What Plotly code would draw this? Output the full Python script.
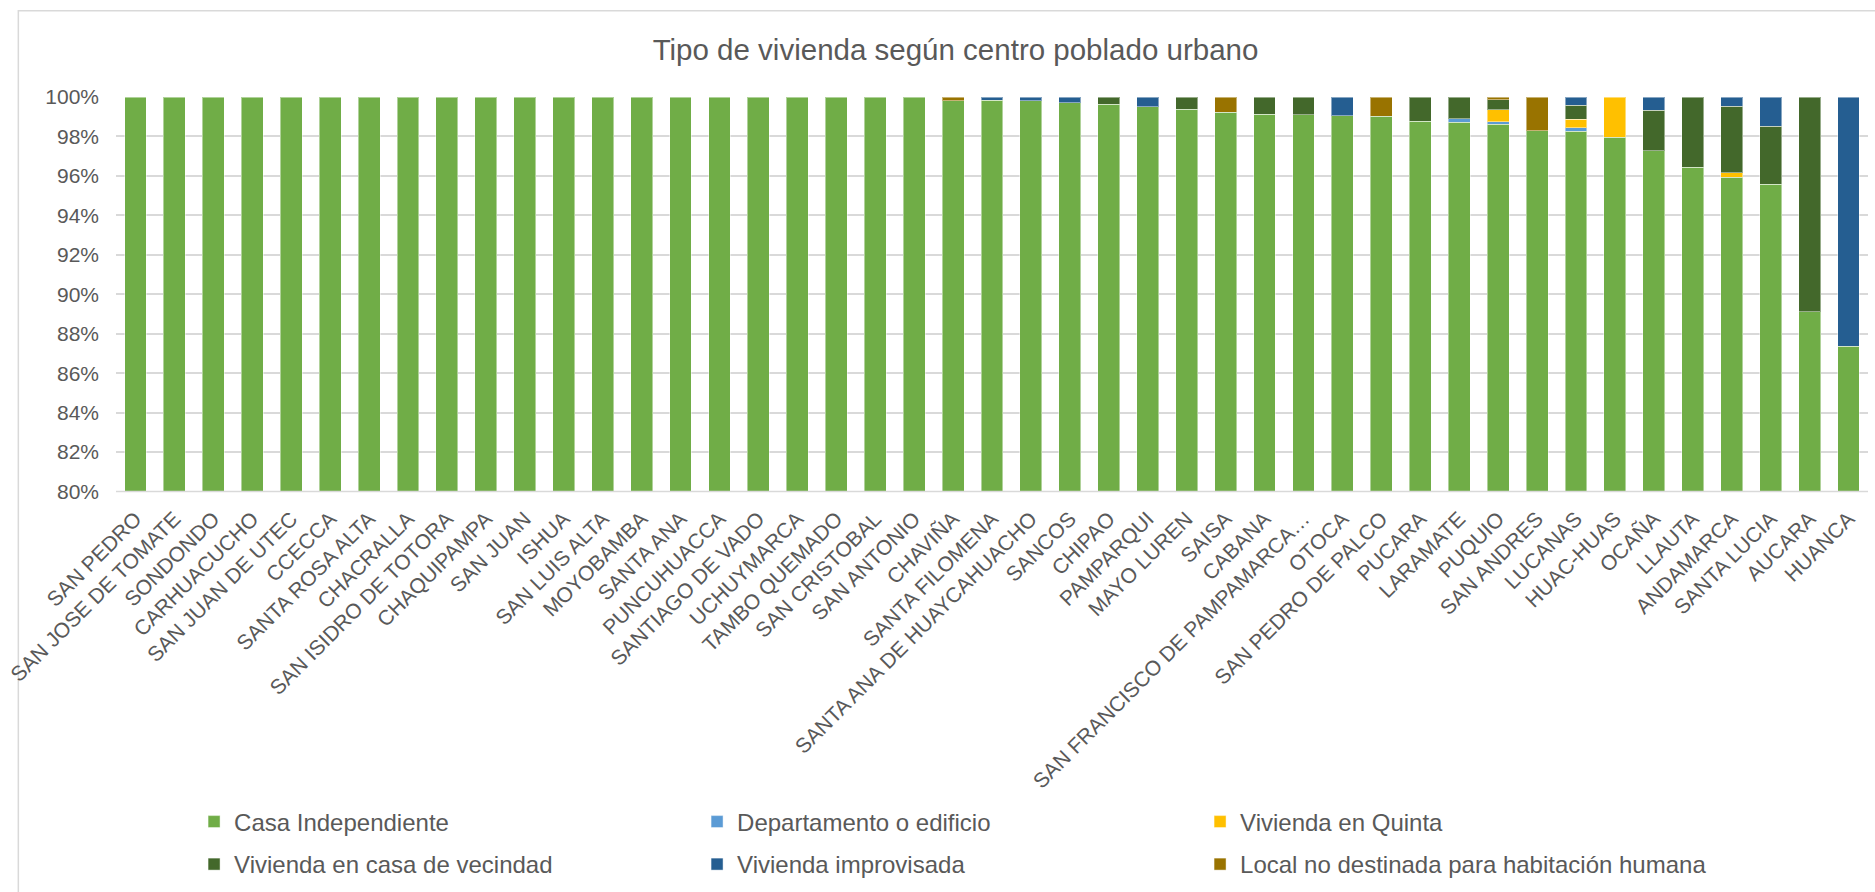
import plotly.graph_objects as go

# Centros poblados urbanos (orden del eje X)
centros = [
    "SAN PEDRO", "SAN JOSE DE TOMATE", "SONDONDO", "CARHUACUCHO", "SAN JUAN DE UTEC",
    "CCECCA", "SANTA ROSA ALTA", "CHACRALLA", "SAN ISIDRO DE TOTORA", "CHAQUIPAMPA",
    "SAN JUAN", "ISHUA", "SAN LUIS ALTA", "MOYOBAMBA", "SANTA ANA",
    "PUNCUHUACCA", "SANTIAGO DE VADO", "UCHUYMARCA", "TAMBO QUEMADO", "SAN CRISTOBAL",
    "SAN ANTONIO", "CHAVIÑA", "SANTA FILOMENA", "SANTA ANA DE HUAYCAHUACHO", "SANCOS",
    "CHIPAO", "PAMPARQUI", "MAYO LUREN", "SAISA", "CABANA",
    "SAN FRANCISCO DE PAMPAMARCA…", "OTOCA", "SAN PEDRO DE PALCO", "PUCARA", "LARAMATE",
    "PUQUIO", "SAN ANDRES", "LUCANAS", "HUAC-HUAS", "OCAÑA",
    "LLAUTA", "ANDAMARCA", "SANTA LUCIA", "AUCARA", "HUANCA",
]

# Porcentaje de viviendas por tipo (%)
casa_independiente = [100] * 21 + [
    99.82, 99.83, 99.80, 99.70, 99.63, 99.50, 99.37, 99.23, 99.13, 99.10,
    99.05, 99.02, 98.78, 98.72, 98.62, 98.30, 98.27, 97.97, 97.28, 96.43,
    95.92, 95.58, 89.12, 87.37,
]
departamento = [0] * 21 + [
    0, 0, 0, 0, 0, 0, 0, 0, 0, 0,
    0, 0, 0, 0.17, 0.13, 0, 0.18, 0, 0, 0,
    0, 0, 0, 0,
]
vivienda_quinta = [0] * 21 + [
    0, 0, 0, 0, 0, 0, 0, 0, 0, 0,
    0, 0, 0, 0, 0.60, 0, 0.42, 2.03, 0, 0,
    0.23, 0, 0, 0,
]
casa_vecindad = [0] * 21 + [
    0, 0, 0, 0, 0.37, 0, 0.63, 0, 0.87, 0.90,
    0, 0, 1.22, 1.11, 0.52, 0, 0.71, 0, 2.04, 3.57,
    3.37, 2.95, 10.88, 0,
]
vivienda_improvisada = [0] * 21 + [
    0, 0.17, 0.20, 0.30, 0, 0.50, 0, 0, 0, 0,
    0.95, 0, 0, 0, 0, 0, 0.42, 0, 0.68, 0,
    0.48, 1.47, 0, 12.63,
]
local_no_destinado = [0] * 21 + [
    0.18, 0, 0, 0, 0, 0, 0, 0.77, 0, 0,
    0, 0.98, 0, 0, 0.13, 1.70, 0, 0, 0, 0,
    0, 0, 0, 0,
]

series = [
    ("Casa Independiente", casa_independiente, "#70AD47", "legend"),
    ("Departamento o edificio", departamento, "#5B9BD5", "legend"),
    ("Vivienda en Quinta", vivienda_quinta, "#FFC000", "legend"),
    ("Vivienda en casa de vecindad", casa_vecindad, "#43682B", "legend2"),
    ("Vivienda improvisada", vivienda_improvisada, "#255E91", "legend2"),
    ("Local no destinada para habitación humana", local_no_destinado, "#997300", "legend2"),
]

FONT = "Liberation Sans, Arial, sans-serif"
GRIS = "#595959"

fig = go.Figure()
for nombre, valores, color, leyenda in series:
    fig.add_trace(go.Bar(
        name=nombre,
        x=centros,
        y=[v if v else None for v in valores],
        marker=dict(color=color, line=dict(color="rgba(255,255,255,0.45)", width=1)),
        legend=leyenda,
        # la última entrada de cada fila puede ocupar más ancho sin mover las demás
        legendwidth=520 if nombre.startswith("Local") else None,
        hovertemplate="%{x}<br>" + nombre + ": %{y:.2f}%<extra></extra>",
    ))

leyenda_base = dict(
    orientation="h",
    traceorder="normal",
    xref="container", yref="container",
    x=0.1035, xanchor="left", yanchor="middle",
    entrywidth=458, entrywidthmode="pixels",
    font=dict(family=FONT, size=24, color=GRIS),
    bgcolor="rgba(0,0,0,0)",
    itemclick=False,
)

fig.update_layout(
    width=1875, height=892,
    margin=dict(l=110.5, r=6.5, t=97.3, b=398.5),
    paper_bgcolor="white", plot_bgcolor="white",
    barmode="stack", bargap=0.437,
    title=dict(
        text="Tipo de vivienda según centro poblado urbano",
        x=955.5 / 1875, xanchor="center", xref="container",
        y=1 - 50 / 892, yanchor="middle", yref="container",
        font=dict(family=FONT, size=29.5, color=GRIS),
    ),
    font=dict(family=FONT, color=GRIS),
    legend=dict(leyenda_base, y=1 - 822 / 892),
    legend2=dict(leyenda_base, y=1 - 864.5 / 892),
    xaxis=dict(
        type="category",
        tickangle=-45,
        tickfont=dict(family=FONT, size=21, color=GRIS),
        showgrid=False,
        showline=False,
        ticks="",
        ticklabelstandoff=10,
    ),
    yaxis=dict(
        range=[80, 100],
        dtick=2,
        ticksuffix="%",
        tickfont=dict(family=FONT, size=21, color=GRIS),
        showgrid=True, gridcolor="#D9D9D9", gridwidth=1.5,
        zeroline=False, showline=False,
        ticks="",
        ticklabelstandoff=16,
    ),
    shapes=[
        # marco del gráfico
        dict(type="rect", xref="paper", yref="paper",
             x0=(12.5 - 110.5) / 1758, x1=(1885 - 110.5) / 1758,
             y0=(493.5 - 905) / 396.2, y1=(493.5 - 10.7) / 396.2,
             line=dict(color="#D9D9D9", width=1.5), fillcolor="rgba(0,0,0,0)",
             layer="below"),
        # línea base del eje X
        dict(type="line", xref="paper", yref="paper", x0=0, x1=1, y0=0, y1=0,
             line=dict(color="#D9D9D9", width=1.5), layer="above"),
    ],
)

fig.write_html("out.html")
